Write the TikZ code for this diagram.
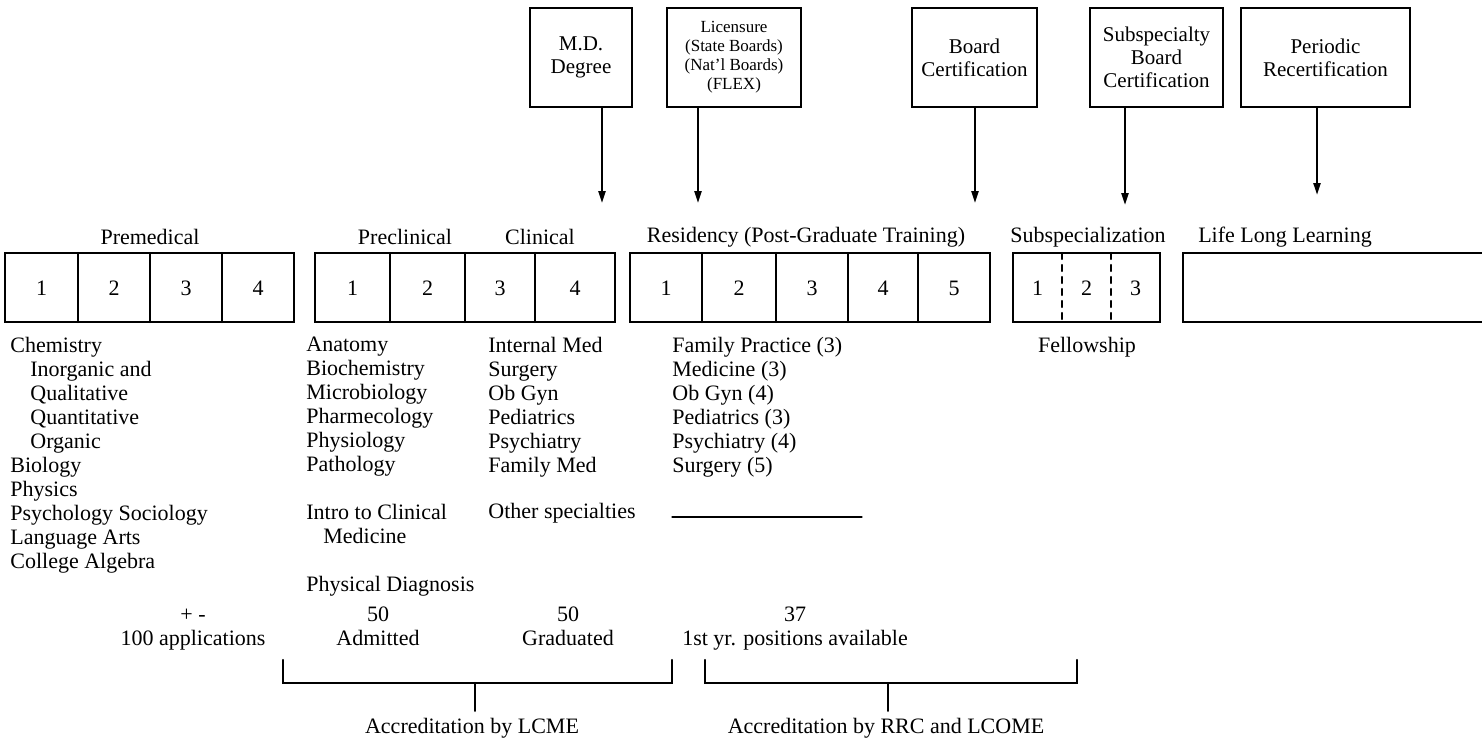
\documentclass[tikz,border=0pt]{standalone}
\usepackage{fontspec}
\setmainfont{Liberation Serif}
\usetikzlibrary{arrows.meta}

\begin{document}
\begin{tikzpicture}[x=0.5pt,y=-0.5pt,>={Triangle[length=6pt,width=3.5pt]},
  font=\fontsize{11}{12}\selectfont,line cap=round,
  topbox/.style={draw,line width=1.1pt,minimum height=49.5pt,align=center,inner sep=1pt,font=\fontsize{10.5}{11.5}\selectfont},
  cell/.style={line width=1.1pt},
  down/.style={->,line width=1.1pt},
  list/.style={align=left,anchor=north west,inner sep=0pt},
  tally/.style={align=center,inner sep=0pt,font=\fontsize{11}{12}\selectfont}]
\useasboundingbox (0,0) rectangle (1482,744);
% certifying steps
\node[topbox,minimum width=51pt] (md) at (581,57.5) {M.D.\\Degree};
\node[topbox,minimum width=67pt,font=\fontsize{8.5}{9.5}\selectfont] (lic) at (734,57.5) {Licensure\\(State Boards)\\(Nat'l Boards)\\(FLEX)};
\node[topbox,minimum width=62.5pt] (board) at (974.5,57.5) {Board\\Certification};
\node[topbox,minimum width=66.5pt] (subboard) at (1156.5,57.5) {Subspecialty\\Board\\Certification};
\node[topbox,minimum width=84.5pt] (recert) at (1325.5,57.5) {Periodic\\Recertification};
\coordinate (mdtip) at (602,203);
\coordinate (lictip) at (698,203);
\coordinate (boardtip) at (975,203);
\coordinate (subboardtip) at (1125,205);
\coordinate (recerttip) at (1317,195);
\draw[down] (md.south -| mdtip) -- (mdtip);
\draw[down] (lic.south -| lictip) -- (lictip);
\draw[down] (board.south -| boardtip) -- (boardtip);
\draw[down] (subboard.south -| subboardtip) -- (subboardtip);
\draw[down] (recert.south -| recerttip) -- (recerttip);
% stage headings
\node (premed) at (150,237) {Premedical};
\node (preclin) at (405,237) {Preclinical};
\node (clin) at (540,237) {Clinical};
\node (resid) at (806,237) {Residency (Post-Graduate Training)};
\node (subspec) at (1088,237) {Subspecialization};
\node (lll) at (1285,237) {Life Long Learning};
% year boxes
\draw[cell] (5,253) rectangle (294,322) (78,253) -- (78,322) (150,253) -- (150,322) (222,253) -- (222,322);
\node (pm1) at (41.5,288) {1};
\node (pm2) at (114,288) {2};
\node (pm3) at (186,288) {3};
\node (pm4) at (258,288) {4};
\draw[cell] (315,253) rectangle (615,322) (390,253) -- (390,322) (465,253) -- (465,322) (535,253) -- (535,322);
\node (md1) at (352.5,288) {1};
\node (md2) at (427.5,288) {2};
\node (md3) at (500,288) {3};
\node (md4) at (575,288) {4};
\draw[cell] (630,253) rectangle (990,322) (702,253) -- (702,322) (776,253) -- (776,322) (848,253) -- (848,322) (918,253) -- (918,322);
\node (rs1) at (666,288) {1};
\node (rs2) at (739,288) {2};
\node (rs3) at (812,288) {3};
\node (rs4) at (883,288) {4};
\node (rs5) at (954,288) {5};
\draw[cell] (1013,253) rectangle (1160,322);
\draw[cell,dashed] (1062,253) -- (1062,322) (1111,253) -- (1111,322);
\node (ss1) at (1037.5,288) {1};
\node (ss2) at (1086.5,288) {2};
\node (ss3) at (1135.5,288) {3};
\draw[cell] (1482,253) -- (1183,253) -- (1183,322) -- (1482,322);
% course lists
\node[list] (premedlist) at (10,337) {Chemistry\\\hspace*{10pt}Inorganic and\\\hspace*{10pt}Qualitative\\\hspace*{10pt}Quantitative\\\hspace*{10pt}Organic\\Biology\\Physics\\Psychology Sociology\\Language Arts\\College Algebra};
\node[list] (preclinlist) at (306,337) {Anatomy\\Biochemistry\\Microbiology\\Pharmecology\\Physiology\\Pathology\\[12pt]Intro to Clinical\\\hspace*{8.5pt}Medicine\\[12pt]Physical Diagnosis};
\node[list] (clinlist) at (488,337) {Internal Med\\Surgery\\Ob Gyn\\Pediatrics\\Psychiatry\\Family Med\\[11pt]Other specialties};
\node[list] (residlist) at (672,337) {Family Practice (3)\\Medicine (3)\\Ob Gyn (4)\\Pediatrics (3)\\Psychiatry (4)\\Surgery (5)};
\node (fellow) at (1087,347) {Fellowship};
\draw[line width=0.6pt] (672,517) -- (862,517);
% numbers
\node[tally] (apps) at (193,629) {\strut+ -\\\strut100 applications};
\node[tally] (admit) at (378,629) {\strut50\\\strut Admitted};
\node[tally] (grad) at (568,629) {\strut50\\\strut Graduated};
\node[tally] (posts) at (795,629) {\strut37\\\strut1st yr. positions available};
% accreditation
\node (lcme) at (472,728) {Accreditation by LCME};
\node (rrc) at (886,728) {Accreditation by RRC and LCOME};
\draw[cell] (283,660) -- (283,683) -- (672,683) -- (672,660);
\draw[cell] (705,660) -- (705,683) -- (1077,683) -- (1077,660);
\coordinate (lcmestem) at (475,683);
\coordinate (rrcstem) at (888,683);
\draw[cell] (lcmestem) -- (lcmestem |- lcme.north);
\draw[cell] (rrcstem) -- (rrcstem |- rrc.north);
\end{tikzpicture}
\end{document}
